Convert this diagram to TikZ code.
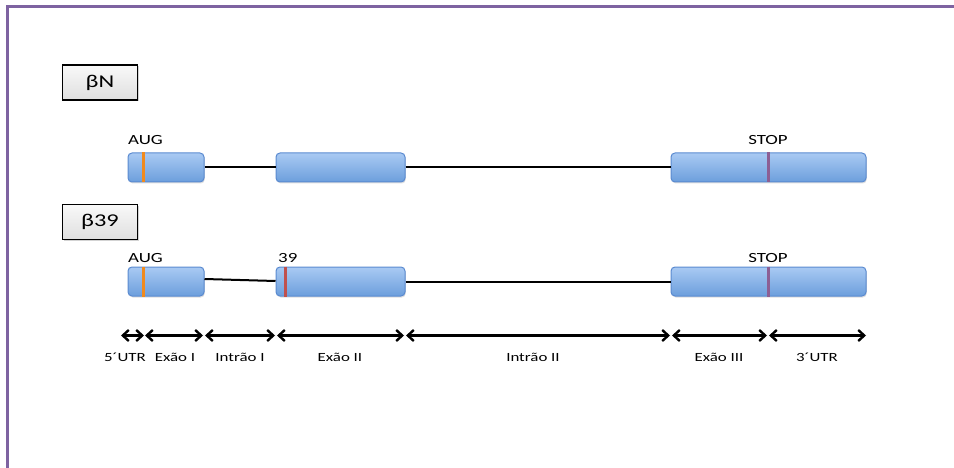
\documentclass[tikz,border=0pt]{standalone}
\usepackage{fontspec}
\setmainfont{Carlito}
\newfontfamily\wide[FakeStretch=1.35]{Carlito}
\usetikzlibrary{arrows.meta,shadows}
\definecolor{frame}{HTML}{7E63A1}
\definecolor{exontop}{HTML}{A9CAF3}
\definecolor{exonbot}{HTML}{6C9EDC}
\definecolor{exonedge}{HTML}{5A8AD0}
\definecolor{augcol}{HTML}{F08A1E}
\definecolor{stopcol}{HTML}{8C5F94}
\definecolor{mutcol}{HTML}{C0504D}
\tikzset{
  exon/.style={draw=exonedge, line width=1pt, rounded corners=4pt,
    top color=exontop, bottom color=exonbot, minimum height=29pt,
    inner sep=0pt, drop shadow={shadow xshift=0.8pt, shadow yshift=-1.5pt, opacity=0.25}},
  tag/.style={draw=black, line width=1.5pt, top color=gray!5, bottom color=gray!25,
    minimum width=75pt, minimum height=35pt, inner sep=0pt,
    font=\wide\fontsize{18}{20}\selectfont,
    drop shadow={shadow xshift=1.5pt, shadow yshift=-1.5pt, opacity=0.35}},
  intron/.style={line width=2pt, black},
  siteline/.style={line width=2.5pt},
  lab/.style={font=\wide\fontsize{14}{16}\selectfont, inner sep=0pt},
  dim/.style={line width=2.4pt, {Straight Barb[length=6pt,width=11pt,line width=2.4pt]}-{Straight Barb[length=6pt,width=11pt,line width=2.4pt]}},
  dimlab/.style={font=\wide\fontsize{12.5}{14}\selectfont, inner sep=0pt, anchor=base}
}
\begin{document}
\begin{tikzpicture}[x=1pt,y=-1pt]
\useasboundingbox (0,0) rectangle (954,468);
% frame
\draw[frame, line width=2.5pt] (7.5,475) -- (7.5,6.5) -- (960,6.5);
% tags
\node[tag] (bN) at (100,82.5) {βN};
\node[tag] (b39) at (100,222) {β39};
% row 1
\node[exon, minimum width=76pt] (e1a) at (166,167.5) {};
\node[exon, minimum width=129pt] (e2a) at (340.5,167.5) {};
\node[exon, minimum width=195pt] (e3a) at (768.5,167.5) {};
\draw[intron] (e1a.east) -- (e2a.west);
\draw[intron] (e2a.east) -- (e3a.west);
\draw[siteline, augcol] ([xshift=16pt]e1a.north west) -- ([xshift=16pt]e1a.south west);
\draw[siteline, stopcol] (e3a.north) -- (e3a.south);
\node[lab, anchor=base west] (aug1) at (128,145) {AUG};
\node[lab, anchor=base] (stop1) at (768,145) {STOP};
% row 2
\node[exon, minimum width=76pt] (e1b) at (166,281.5) {};
\node[exon, minimum width=129pt] (e2b) at (340.5,281.5) {};
\node[exon, minimum width=195pt] (e3b) at (768.5,281.5) {};
\draw[intron] ([yshift=2.5pt]e1b.east) -- ([yshift=0.5pt]e2b.west);
\draw[intron] (e2b.east) -- (e3b.west);
\draw[siteline, augcol] ([xshift=16pt]e1b.north west) -- ([xshift=16pt]e1b.south west);
\draw[siteline, mutcol] ([xshift=10pt]e2b.north west) -- ([xshift=10pt]e2b.south west);
\draw[siteline, stopcol] (e3b.north) -- (e3b.south);
\node[lab, anchor=base west] (aug2) at (128,262) {AUG};
\node[lab, anchor=base west] (c39) at (278,262) {39};
\node[lab, anchor=base] (stop2) at (768,262) {STOP};
% dimension arrows
\coordinate (a0) at (121,335.5);
\coordinate (a1) at (144,335.5);
\coordinate (a2) at (204,335.5);
\coordinate (a3) at (276,335.5);
\coordinate (a4) at (405,335.5);
\coordinate (a5) at (671,335.5);
\coordinate (a6) at (768,335.5);
\coordinate (a7) at (866,335.5);
\draw[dim] (a0) -- (a1);
\draw[dim] ([xshift=1pt]a1) -- ([xshift=-1pt]a2);
\draw[dim] ([xshift=1pt]a2) -- ([xshift=-1pt]a3);
\draw[dim] ([xshift=1pt]a3) -- ([xshift=-1pt]a4);
\draw[dim] ([xshift=1pt]a4) -- ([xshift=-1pt]a5);
\draw[dim] ([xshift=1pt]a5) -- ([xshift=-1pt]a6);
\draw[dim] ([xshift=1pt]a6) -- (a7);
\node[dimlab] (l1) at (125,361) {5´UTR};
\node[dimlab] (l2) at (175,361) {Exão I};
\node[dimlab] (l3) at (240,361) {Intrão I};
\node[dimlab] (l4) at (340,361) {Exão II};
\node[dimlab] (l5) at (533,361) {Intrão II};
\node[dimlab] (l6) at (719,361) {Exão III};
\node[dimlab] (l7) at (817,361) {3´UTR};
\end{tikzpicture}
\end{document}
